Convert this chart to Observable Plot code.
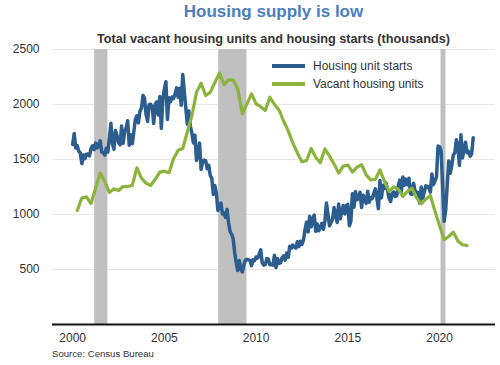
<!DOCTYPE html>
<html>
<head>
<meta charset="utf-8">
<script src="https://cdn.jsdelivr.net/npm/d3@7"></script>
<script src="https://cdn.jsdelivr.net/npm/@observablehq/plot@0.6"></script>
<style>
  body { margin: 0; background: #fff; font-family: "Liberation Sans", Arial, Helvetica, sans-serif; }
  #wrap { position: relative; width: 500px; height: 365px; overflow: hidden; background: #fff; }
  #title { position: absolute; top: 0; left: 52px; width: 443px; text-align: center; font-weight: bold; font-size: 17px; line-height: 24px; color: #4a7ebf; }
  #subtitle { position: absolute; top: 31px; left: 52px; width: 443px; text-align: center; font-weight: bold; font-size: 12.7px; line-height: 16px; color: #333; }
  #chart { position: absolute; top: 40px; left: 0; }
  #legend { position: absolute; left: 272px; top: 57px; font-size: 12px; color: #333; }
  .item { display: flex; align-items: center; height: 18px; }
  .swatch { width: 33px; height: 4px; margin-right: 8px; }
  #source { position: absolute; top: 348px; left: 52px; font-size: 9.6px; line-height: 12px; color: #333; }
</style>
</head>
<body>
<div id="wrap">
  <div id="title"></div>
  <div id="subtitle"></div>
  <div id="chart"></div>
  <div id="legend"></div>
  <div id="source"></div>
</div>
<script>
// ---- Text ----
const titleText = "Housing supply is low";
const subtitleText = "Total vacant housing units and housing starts (thousands)";
const sourceText = "Source: Census Bureau";
const seriesNames = ["Housing unit starts", "Vacant housing units"];
const seriesColors = ["#2c5d8f", "#8cb43c"];

// ---- Axis ticks ----
const xTicks = [2000, 2005, 2010, 2015, 2020];
const yTicks = [500, 1000, 1500, 2000, 2500];

// ---- Housing unit starts (thousands, monthly, from Jan 2000) ----
const startsFirstYear = 2000;
const housingStarts = [
  1636, 1737, 1604, 1626, 1575, 1559, 1463, 1541, 1507, 1549, 1551, 1532,
  1600, 1625, 1590, 1649, 1605, 1636, 1670, 1567, 1562, 1540, 1602, 1568,
  1698, 1829, 1642, 1592, 1764, 1717, 1655, 1633, 1804, 1648, 1753, 1788,
  1853, 1629, 1726, 1643, 1751, 1867, 1897, 1833, 1939, 1967, 2083, 2057,
  1911, 1846, 1998, 2003, 1981, 1828, 2002, 2024, 1905, 2072, 1782, 2042,
  2144, 2207, 1864, 2061, 2025, 2068, 2054, 2095, 2151, 2065, 2147, 1994,
  2273, 2119, 1969, 1821, 1942, 1802, 1737, 1650, 1720, 1491, 1570, 1649,
  1409, 1480, 1495, 1490, 1415, 1448, 1354, 1330, 1183, 1264, 1197, 1037,
  1084, 1103, 1005, 1013, 973, 1046, 923, 844, 820, 777, 652, 560,
  490, 582, 505, 478, 540, 585, 594, 586, 585, 534, 588, 581,
  614, 604, 636, 679, 562, 539, 546, 599, 594, 543, 545, 539,
  630, 517, 600, 554, 561, 608, 623, 585, 650, 610, 711, 694,
  723, 704, 695, 753, 708, 757, 728, 768, 863, 930, 841, 983,
  888, 962, 994, 847, 915, 852, 883, 920, 865, 941, 1105, 1003,
  897, 928, 955, 1063, 1006, 927, 1095, 961, 1019, 1081, 1004, 1082,
  1092, 898, 939, 1189, 1066, 1210, 1132, 1150, 1203, 1064, 1176, 1136,
  1101, 1211, 1111, 1152, 1145, 1192, 1233, 1147, 1052, 1310, 1151, 1265,
  1236, 1286, 1221, 1146, 1118, 1193, 1205, 1163, 1170, 1262, 1313, 1203,
  1340, 1266, 1322, 1270, 1330, 1188, 1183, 1284, 1215, 1203, 1201, 1105,
  1251, 1144, 1205, 1260, 1256, 1242, 1203, 1369, 1271, 1306, 1339, 1622,
  1617, 1578, 1269, 938, 1038, 1265, 1487, 1376, 1448, 1541, 1560, 1680,
  1625, 1447, 1725, 1514, 1594, 1657, 1562, 1573, 1530, 1551, 1697
];

// ---- Vacant housing units (thousands, quarterly, from Q2 2000) ----
const vacantFirstTime = 2000.25;
const vacantUnits = [
  1036, 1150, 1160, 1100, 1240, 1375, 1300, 1200,
  1233, 1218, 1254, 1254, 1265, 1424, 1330, 1285,
  1264, 1320, 1385, 1394, 1380, 1506, 1585, 1600,
  1750, 1900, 2110, 2194, 2082, 2110, 2200, 2285,
  2180, 2224, 2224, 2140, 1915, 2006, 2097, 2006,
  1980, 1945, 2066, 2000, 1950, 1850, 1760, 1650,
  1560, 1480, 1491, 1600, 1520, 1470, 1597, 1530,
  1460, 1376, 1440, 1450, 1385, 1430, 1452, 1360,
  1315, 1320, 1406, 1300, 1210, 1250, 1230, 1164,
  1210, 1240, 1150, 1097, 1140, 1173, 1030, 900,
  770, 800, 840, 760, 725, 718
];

// ---- Recessions (decimal years) ----
const recessionStarts = [2001.2, 2007.96, 2020.08];
const recessionEnds = [2001.92, 2009.5, 2020.35];

// ---- Build tables ----
const startsData = housingStarts.map((v, i) => ({ t: startsFirstYear + i / 12, v }));
const vacantData = vacantUnits.map((v, i) => ({ t: vacantFirstTime + i / 4, v }));
const recessions = recessionStarts.map((s, i) => ({ start: s, end: recessionEnds[i] }));

document.getElementById("title").textContent = titleText;
document.getElementById("subtitle").textContent = subtitleText;
document.getElementById("source").textContent = sourceText;

const font = '"Liberation Sans", Arial, Helvetica, sans-serif';

const chart = Plot.plot({
  width: 500,
  height: 305,
  marginTop: 9,
  marginBottom: 21,
  marginLeft: 52,
  marginRight: 5,
  style: { fontSize: "12px", fontFamily: font, color: "#333", background: "transparent" },
  x: { domain: [1998.9, 2023.05], label: null },
  y: { domain: [0, 2500], label: null },
  marks: [
    Plot.ruleY(yTicks, { stroke: "#e8e8e8", strokeWidth: 1 }),
    Plot.rect(recessions, { x1: "start", x2: "end", y1: 0, y2: 2500, fill: "#bfbfbf" }),
    Plot.line(startsData, { x: "t", y: "v", stroke: seriesColors[0], strokeWidth: 3.5, strokeLinejoin: "round", strokeLinecap: "round" }),
    Plot.line(vacantData, { x: "t", y: "v", stroke: seriesColors[1], strokeWidth: 3.2, strokeLinejoin: "round", strokeLinecap: "round" }),
    Plot.ruleY([0], { stroke: "#111", strokeWidth: 2 }),
    Plot.axisX({ ticks: xTicks, tickFormat: d => String(d), tickSize: 0, tickPadding: 9, label: null }),
    Plot.axisY({ ticks: yTicks, tickFormat: d => String(d), tickSize: 0, tickPadding: 13, label: null })
  ]
});
document.getElementById("chart").appendChild(chart);

// ---- Legend ----
const legend = document.getElementById("legend");
seriesNames.forEach((name, i) => {
  const item = document.createElement("div");
  item.className = "item";
  const sw = document.createElement("div");
  sw.className = "swatch";
  sw.style.background = seriesColors[i];
  const label = document.createElement("span");
  label.textContent = name;
  item.appendChild(sw);
  item.appendChild(label);
  legend.appendChild(item);
});
</script>
</body>
</html>
